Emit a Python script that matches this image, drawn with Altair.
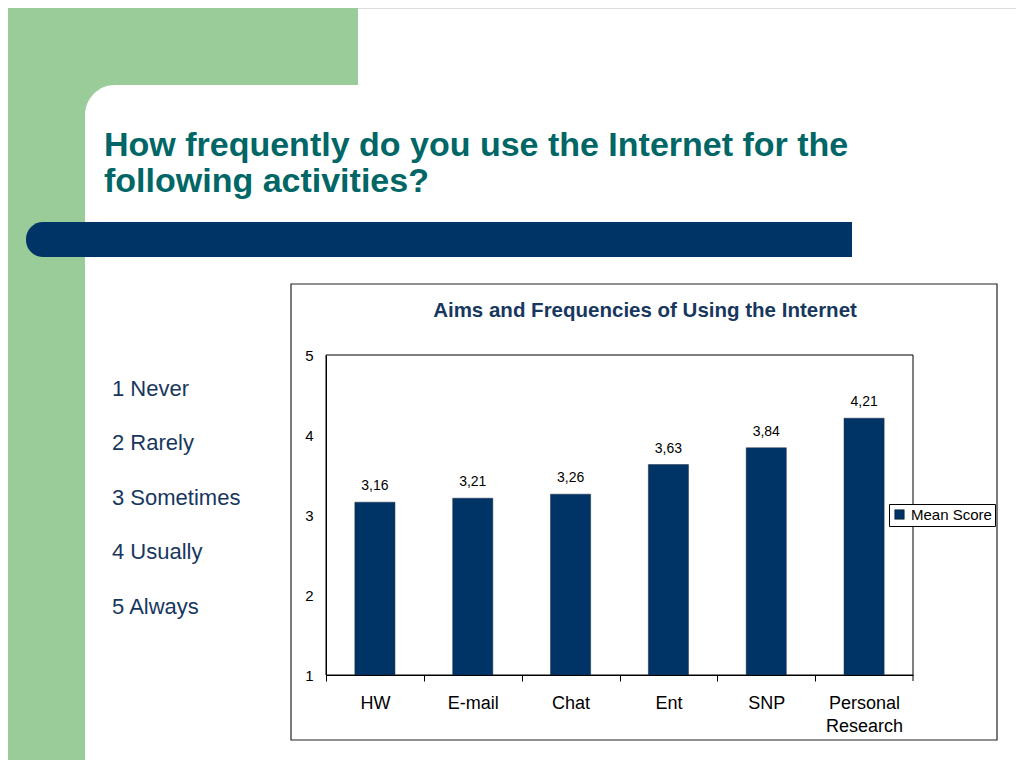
import altair as alt
import pandas as pd

# ---- data ----
categories = ["HW", "E-mail", "Chat", "Ent", "SNP", "Personal Research"]
scores = [3.16, 3.21, 3.26, 3.63, 3.84, 4.21]
series_name = "Mean Score"
y_ticks = [1, 2, 3, 4, 5]
scale_labels = ["1 Never", "2 Rarely", "3 Sometimes", "4 Usually", "5 Always"]
slide_title = ["How frequently do you use the Internet for the", "following activities?"]
chart_title = "Aims and Frequencies of Using the Internet"

FONT = "Liberation Sans"
NAVY = "#003366"
TEXT_BLUE = "#17375e"
GREEN = "#99cc99"
TEAL = "#006666"

X0, X1 = 318, 905
HALF_STEP = (X1 - X0) / len(categories) / 2

df = pd.DataFrame({"activity": categories, "score": scores, "series": [series_name] * len(categories)})
one = pd.DataFrame({"k": [0]})

# ---- slide decorations ----
green = alt.Chart(one).mark_rect(color=GREEN).encode(
    x=alt.value(-8), x2=alt.value(350), y=alt.value(-8), y2=alt.value(760))
white = alt.Chart(one).mark_rect(color="white", cornerRadiusTopLeft=30).encode(
    x=alt.value(77), x2=alt.value(1010), y=alt.value(77), y2=alt.value(760))
banner = alt.Chart(one).mark_rect(color=NAVY, cornerRadiusTopLeft=17, cornerRadiusBottomLeft=17).encode(
    x=alt.value(18), x2=alt.value(844), y=alt.value(214), y2=alt.value(249))
title_txt = alt.Chart(one).mark_text(
    text=slide_title, font=FONT, fontSize=34, fontWeight="bold", color=TEAL,
    align="left", baseline="alphabetic", lineHeight=36).encode(
    x=alt.value(96), y=alt.value(148))
list_txt = alt.Chart(one).mark_text(
    text=scale_labels, font=FONT, fontSize=22, color=TEXT_BLUE,
    align="left", baseline="alphabetic", lineHeight=54.4).encode(
    x=alt.value(104), y=alt.value(388))

# ---- chart frame ----
frame = alt.Chart(one).mark_rect(fill="white", stroke="#222222", strokeWidth=1.2).encode(
    x=alt.value(283), x2=alt.value(989), y=alt.value(276), y2=alt.value(732))
ctitle = alt.Chart(one).mark_text(
    text=chart_title, font=FONT, fontSize=20.5, fontWeight="bold", color=TEXT_BLUE,
    align="center", baseline="alphabetic").encode(
    x=alt.value(637), y=alt.value(309))
plot_border = alt.Chart(one).mark_rect(fill="white", stroke="black", strokeWidth=1).encode(
    x=alt.value(X0), x2=alt.value(X1), y=alt.value(347), y2=alt.value(667))
last_tick = alt.Chart(one).mark_rule(color="black", strokeWidth=1).encode(
    x=alt.value(X1), y=alt.value(667), y2=alt.value(673))

# ---- bars ----
x_enc = alt.X("activity:N", sort=categories,
              scale=alt.Scale(range=[X0, X1], paddingInner=0.59, paddingOuter=0.295),
              axis=alt.Axis(title=None, orient="bottom", offset=-85, labelAngle=0,
                            labelExpr="split(datum.label, ' ')", labelFontSize=18,
                            labelFont=FONT, labelColor="black", labelPadding=13,
                            labelLineHeight=23, ticks=True, tickSize=6,
                            tickWidth=1, tickColor="black",
                            tickOffset=-HALF_STEP, labelOffset=HALF_STEP,
                            domainColor="black", grid=False, zindex=5))
y_enc = alt.Y("score:Q",
              scale=alt.Scale(domain=[1, 5], range=[667, 347], nice=False, zero=False),
              axis=alt.Axis(title=None, orient="left", offset=-318, values=y_ticks,
                            format="d", labelFontSize=15, labelFont=FONT,
                            labelColor="black", tickSize=0, labelPadding=13,
                            domainColor="black", grid=False, zindex=5))

bars = alt.Chart(df).mark_bar(stroke="#1a2a40", strokeWidth=0.5).encode(
    x=x_enc, y=y_enc, y2=alt.datum(1),
    color=alt.Color("series:N", scale=alt.Scale(range=[NAVY]),
                    legend=alt.Legend(title=None, orient="none", legendX=881, legendY=496,
                                      symbolType="square", symbolSize=90,
                                      symbolStrokeColor="black", symbolStrokeWidth=0.5,
                                      labelFont=FONT, labelFontSize=15, labelColor="black",
                                      strokeColor="black", fillColor="white", padding=3,
                                      labelOffset=4, zindex=3)))

values_txt = alt.Chart(df).transform_calculate(
    lbl="replace(format(datum.score, '.2f'), '.', ',')"
).mark_text(font=FONT, fontSize=14, color="black", baseline="bottom", dy=-9).encode(
    x=alt.X("activity:N", sort=categories), y=alt.Y("score:Q"), text="lbl:N")

chart = alt.layer(
    green, white, banner, title_txt, list_txt, frame, ctitle, plot_border, last_tick,
    bars, values_txt
).properties(
    width=1008, height=752, padding=0, autosize=alt.AutoSizeParams(type="none")
).configure_view(stroke=None).configure(background="white")

chart.save("out.html", embed_options={"renderer": "svg", "actions": False})
